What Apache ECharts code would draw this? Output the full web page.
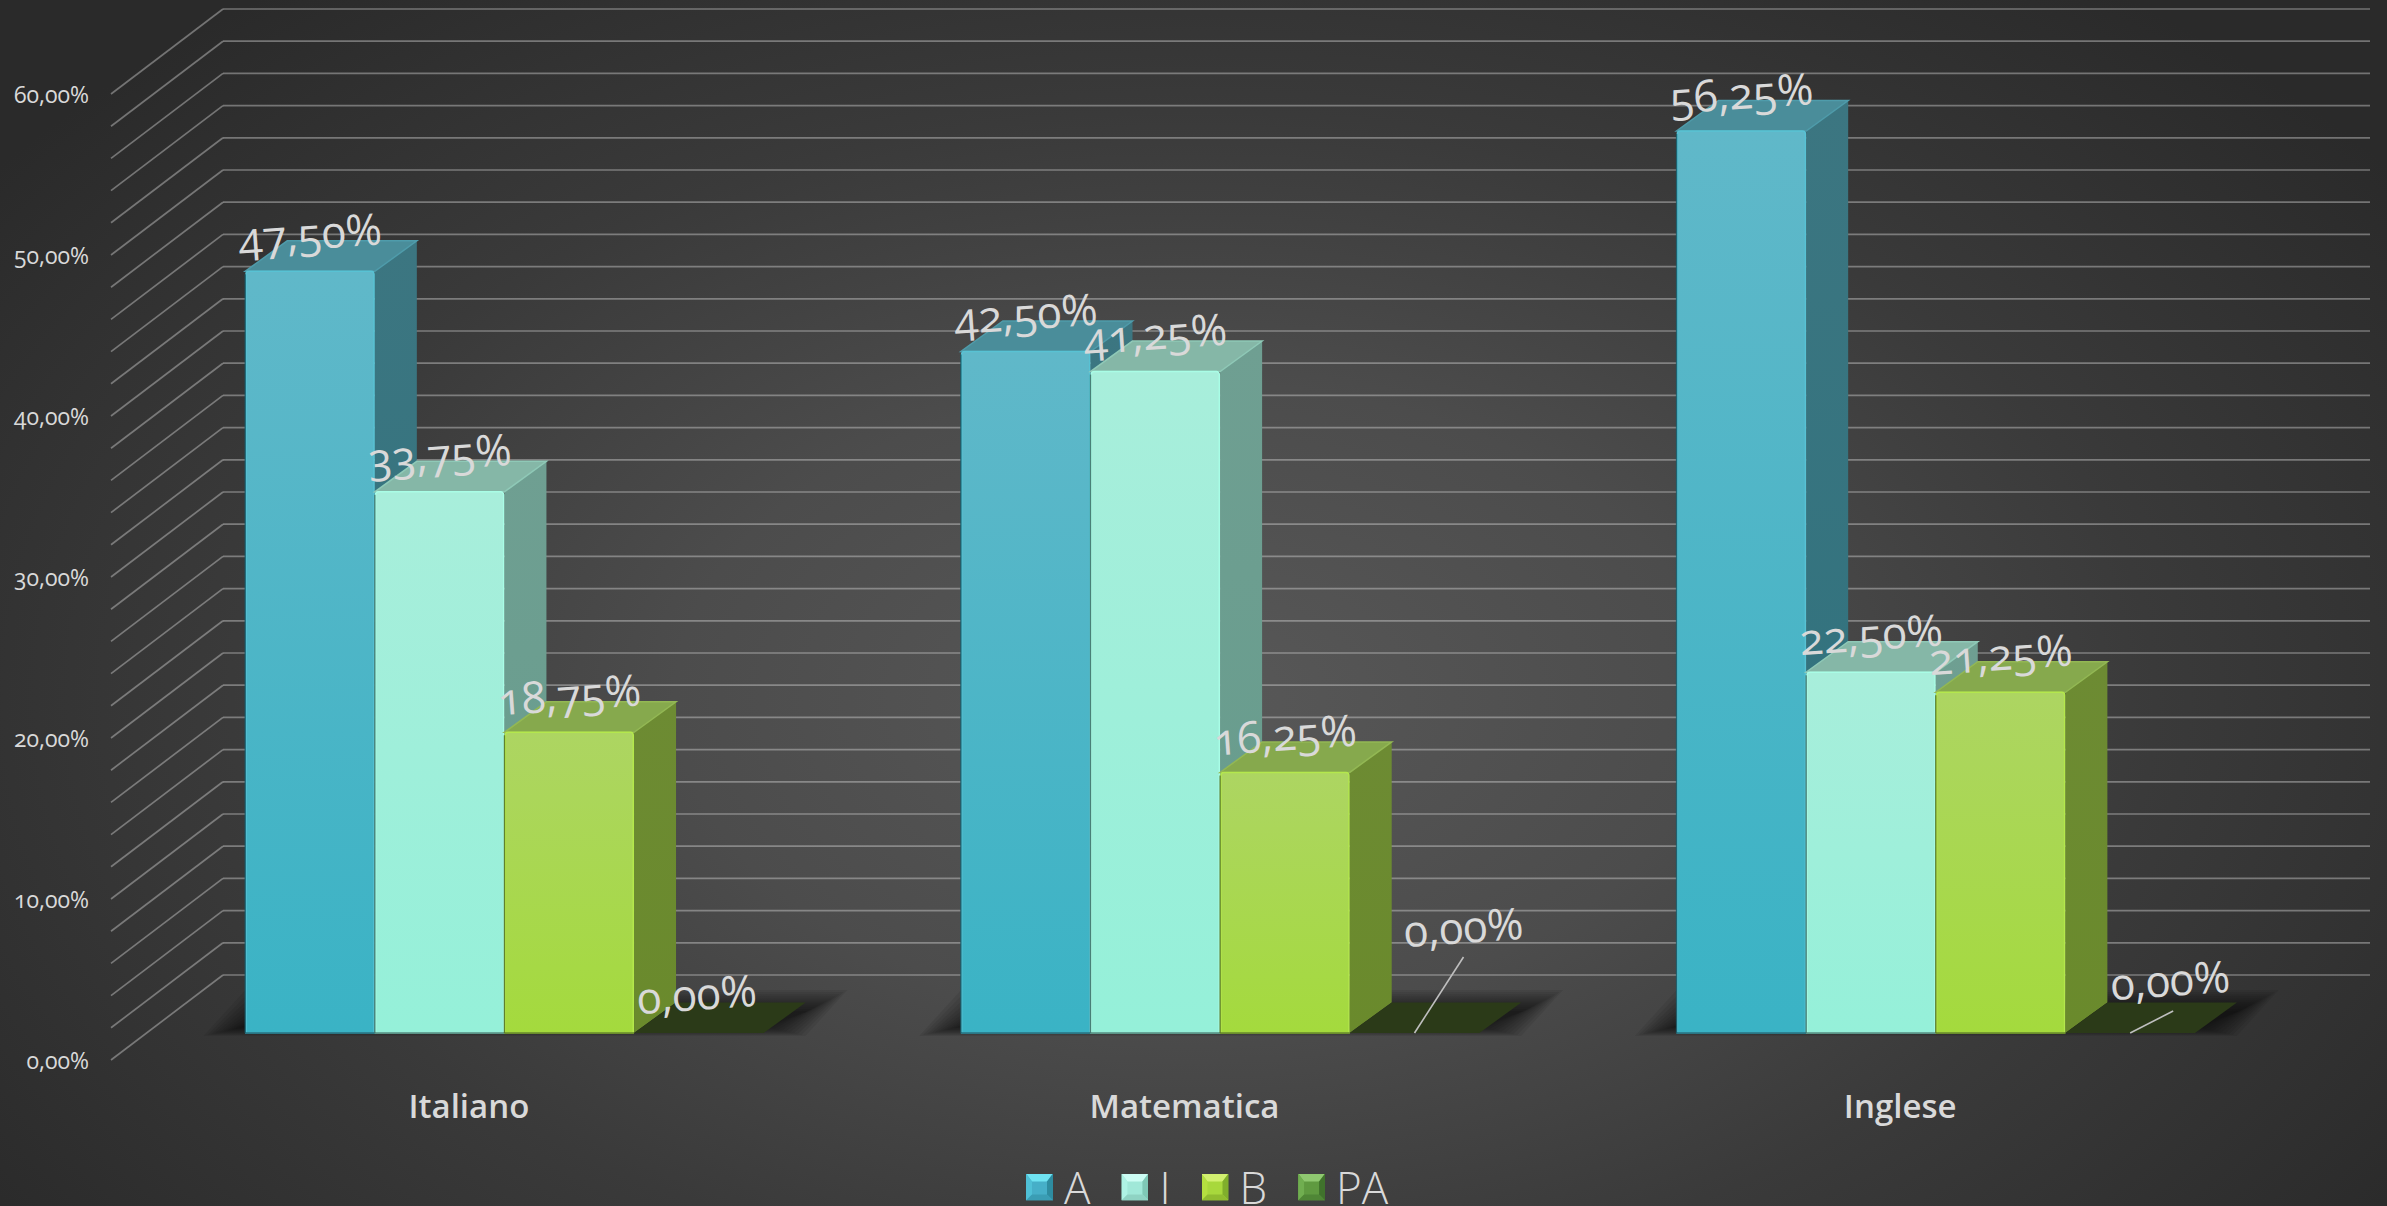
<!DOCTYPE html>
<html><head><meta charset="utf-8">
<script src="https://cdn.jsdelivr.net/npm/echarts@6/dist/echarts.min.js"></script>
<style>
html,body{margin:0;padding:0;width:2387px;height:1206px;overflow:hidden;background:#2b2b2b}
#c{width:2387px;height:1206px;background:radial-gradient(ellipse 62% 75% at 50% 58%,#585858 0%,#4c4c4c 35%,#3a3a3a 65%,#2a2a2a 100%)}
svg text{font-variant-numeric:oldstyle-nums !important;font-feature-settings:"onum" 1 !important}
</style></head><body><div id="c"></div>
<script>
const categories=['Italiano','Matematica','Inglese'];
const seriesNames=['A','I','B','PA'];
const valuesA=[47.5,42.5,56.25];
const valuesI=[33.75,41.25,22.5];
const valuesB=[18.75,16.25,21.25];
const valuesPA=[0,0,0];
const yTicks=[0,2,4,6,8,10,12,14,16,18,20,22,24,26,28,30,32,34,36,38,40,42,44,46,48,50,52,54,56,58,60];
const FONT='"Open Sans"';
const TEXT='#d9d9d9';
// 3D projection constants
const WALL={dx:112,dy:-85}, FRONT={dx:35.6,dy:-27}, DEPTH={dx:42,dy:-30.5}, BAR_W=129.6, YS=0.996;
const STYLE=[
 {f:['#60b8c9','#3ab3c5'],s:['#3c7681','#2e717d'],t:'#4a8d9a',te:'#4f9cab',e:'#58c2d4',d:'rgba(20,90,105,0.8)'},
 {f:['#a8eedb','#95f0d9'],s:['#6f9f92','#669c8c'],t:'#85b7a7',te:'#8fc9b7',e:'#a9fde6',d:'rgba(60,110,100,0.8)'},
 {f:['#add562','#a4da3d'],s:['#6d8b33','#6a8a2c'],t:'#86a94d',te:'#93b854',e:'#b4e84c',d:'rgba(80,110,30,0.8)'},
 {f:['#5f9a3f','#5f9a3f'],s:['#3d5f24','#3d5f24'],t:'#2b3a18',te:'#2b3a18',e:'#2b3a18',d:'#2b3a18'}
];
// manual data-label placement for zero labels: [dx,dy] from the bar's front centre, with optional leader
const LABEL_NUDGE={ '3_0':[-2,-40], '3_1':[49,-107,[49,-76]], '3_2':[40,-54,[43,-22]] };
const SHADOW_LAYERS=[30,27,24,21,18,15,12,9,6,3,0];
function vgrad(c){return {type:'linear',x:0,y:0,x2:0,y2:1,colorStops:[{offset:0,color:c[0]},{offset:1,color:c[1]}]};}
function fmt(v){return v.toFixed(2).replace('.',',')+'%';}
function barItem(si){return function(p,api){
  const cat=api.value(0),v=api.value(1);
  const base=api.coord([cat,0]),top=api.coord([cat,v]);
  const st=STYLE[si];
  const x0=base[0]+FRONT.dx+(si-2)*BAR_W, x1=x0+BAR_W;
  const yb=base[1]+FRONT.dy, yt=yb-(base[1]-top[1])*YS;
  const ch=[];
  const dx=DEPTH.dx,dy=DEPTH.dy;
  if(v>0){
    ch.push({type:'polygon',shape:{points:[[x1,yt],[x1+dx,yt+dy],[x1+dx,yb+dy],[x1,yb]]},style:{fill:vgrad(st.s)}});
  }
  ch.push({type:'polygon',shape:{points:[[x0,yt],[x1,yt],[x1+dx,yt+dy],[x0+dx,yt+dy]]},style:{fill:st.t,stroke:v>0?st.te:null,lineWidth:1.5}});
  if(v>0){
    ch.push({type:'rect',shape:{x:x0+0.75,y:yt,width:BAR_W-1.5,height:yb-yt,r:[3,3,0,0]},style:{fill:vgrad(st.f),stroke:st.e,lineWidth:1.5}});
    ch.push({type:'line',shape:{x1:x0,y1:yt+3,x2:x0,y2:yb},style:{stroke:st.d,lineWidth:1.4}});
    ch.push({type:'line',shape:{x1:x0,y1:yb,x2:x1,y2:yb},style:{stroke:st.d,lineWidth:1.4}});
  }
  const n=LABEL_NUDGE[si+'_'+cat]||[0,-39];
  const cx=x0+BAR_W/2;
  if(n[2]){
    ch.push({type:'line',shape:{x1:cx,y1:yb,x2:cx+n[2][0],y2:yb+n[2][1]},style:{stroke:'#bfbfbf',lineWidth:1.6},z2:50});
  }
  ch.push({type:'text',x:cx+n[0],y:yt+n[1],rotation:4*Math.PI/180,z2:100,
    style:{text:fmt(v),font:'400 44px '+FONT,fill:TEXT,align:'center',verticalAlign:'middle'}});
  return {type:'group',children:ch};
};}
function gridItem(p,api){
  const c=api.coord([0,api.value(0)]);
  const left=p.coordSys.x, right=p.coordSys.x+p.coordSys.width;
  const x=left,y=c[1];
  const stroke='rgba(217,217,217,0.42)';
  return {type:'group',children:[
    {type:'line',shape:{x1:x,y1:y,x2:x+WALL.dx,y2:y+WALL.dy},style:{stroke,lineWidth:1.7}},
    {type:'line',shape:{x1:x+WALL.dx,y1:y+WALL.dy,x2:right+WALL.dx,y2:y+WALL.dy},style:{stroke,lineWidth:1.7}}
  ]};
}
function floorItem(p,api){
  const b=api.coord([api.value(0),0]);
  const cx=b[0]+FRONT.dx, y=b[1]+FRONT.dy-6;
  const L=cx-262,R=cx+262;
  return {type:'group',children:SHADOW_LAYERS.map(e=>({type:'polygon',shape:{points:[
      [L-e*1.3,y+e*0.3],[R+e*1.3,y+e*0.3],[R+DEPTH.dx+e*1.3,y-16-e*0.7],[L+DEPTH.dx-e*1.3,y-16-e*0.7]]},
    style:{fill:'rgba(0,0,0,0.07)'}}))};
}
function swatch(top,left,mid,right,bottom){
  const s='<svg xmlns="http://www.w3.org/2000/svg" width="27" height="27">'+
   `<rect width="27" height="27" fill="${mid}"/>`+
   `<polygon points="0,0 27,0 21,8 6,8" fill="${top}"/>`+
   `<polygon points="0,0 6,8 6,21 0,27" fill="${left}"/>`+
   `<polygon points="27,0 21,8 21,21 27,27" fill="${right}"/>`+
   `<polygon points="0,27 6,21 21,21 27,27" fill="${bottom}"/></svg>`;
  return 'image://data:image/svg+xml;charset=utf-8,'+encodeURIComponent(s);
}
const ICONS=[
 swatch('#6fe3f2','#4fc0d6','#46afc8','#2e8ca0','#3a9db4'),
 swatch('#cdfdf4','#aef3e4','#a0e8d8','#7fc8b6','#8fd3c3'),
 swatch('#d2f070','#b4e040','#a8d83c','#80ae2c','#90bc30'),
 swatch('#8fc870','#70ae50','#5f9a40','#40722c','#4f8636')
];
const allValues=[valuesA,valuesI,valuesB,valuesPA];
const chart=echarts.init(document.getElementById('c'),null,{renderer:'svg',width:2387,height:1206});
chart.setOption({
  animation:false,
  grid:{left:111,top:94,width:2147,height:966,containLabel:false},
  legend:{left:1026,top:1165,padding:0,itemWidth:27,itemHeight:27,itemGap:31,selectedMode:false,
    data:seriesNames.map((n,i)=>({name:n,icon:ICONS[i]})),
    textStyle:{color:TEXT,fontFamily:FONT,fontWeight:300,fontSize:44,lineHeight:44,padding:[0,0,0,6]}},
  xAxis:{type:'category',data:categories,axisLine:{show:false},axisTick:{show:false},
    axisLabel:{color:TEXT,fontFamily:FONT,fontWeight:600,fontSize:33,margin:29}},
  yAxis:{type:'value',min:0,max:60,interval:2,splitLine:{show:false},axisLine:{show:false},axisTick:{show:false},
    axisLabel:{color:TEXT,fontFamily:FONT,fontSize:23,margin:22,
      formatter:v=>v%10===0?v.toFixed(2).replace('.',',')+'%':''}},
  series:[
    {type:'custom',name:'grid',silent:true,renderItem:gridItem,data:yTicks.map(v=>[v]),encode:{y:0},z:1},
    {type:'custom',name:'floor',silent:true,renderItem:floorItem,data:categories.map((c,i)=>[i]),encode:{x:0},z:2},
    ...seriesNames.map((n,si)=>({type:'custom',name:n,renderItem:barItem(si),
      data:allValues[si].map((v,i)=>[i,v]),encode:{x:0,y:1},z:3+si,itemStyle:{color:STYLE[si].f[1]}}))
  ]
});
</script></body></html>
